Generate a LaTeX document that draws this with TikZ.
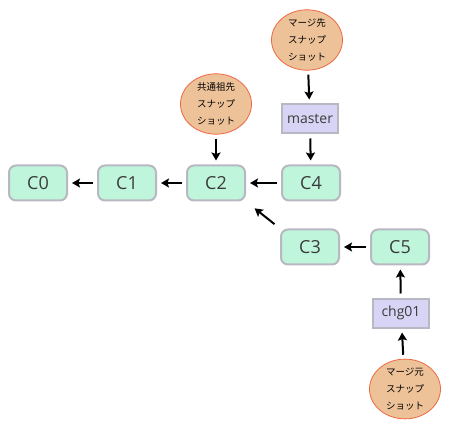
\documentclass[tikz,border=0pt]{standalone}
\usepackage{fontspec}
\setsansfont{Open Sans}
\newfontfamily\cjk{Noto Sans CJK JP}
\usetikzlibrary{shapes.geometric}
\usetikzlibrary{arrows.meta}
\usetikzlibrary{positioning}
\definecolor{green2}{RGB}{190, 245, 219}
\definecolor{gray2}{RGB}{184, 184, 194}
\definecolor{purple2}{RGB}{216, 212, 245}
\definecolor{orange2}{RGB}{237, 194, 153}
\definecolor{red2}{RGB}{238, 104, 64}
\definecolor{text2}{RGB}{60, 60, 60}
\tikzset{
commit/.style={draw=gray2, fill=green2, line width=2pt, rounded corners=7pt,
	minimum width=58pt, minimum height=35pt, inner sep=0pt,
	font=\sffamily\fontsize{18}{18}\selectfont, text=text2},
branch/.style={draw=gray2, fill=purple2, line width=2pt,
	minimum width=56pt, minimum height=29pt, inner sep=0pt,
	font=\sffamily\fontsize{14}{14}\selectfont, text=text2},
snap/.style={ellipse, draw=red2, fill=orange2, line width=0.8pt,
	minimum width=71pt, minimum height=53pt, inner sep=0pt, align=center,
	font=\cjk\fontsize{9.5}{17}\selectfont},
parent/.style={-{Stealth[length=8pt, width=9pt, inset=1.5pt]}, line width=2pt,
	shorten <=4pt, shorten >=4pt},
}

\begin{document}
\begin{tikzpicture}[x=1pt, y=-1pt]
\useasboundingbox (0,0) rectangle (450,422);
%Place the nodes
\node[commit] (c0) at (38,183) {C0};
\node[commit] (c1) at (127,183) {C1};
\node[commit] (c2) at (216,183) {C2};
\node[commit] (c4) at (311,183) {C4};
\node[commit] (c3) at (310,247) {C3};
\node[commit] (c5) at (400,247) {C5};

\node[branch] (master) at (310,119) {master};
\node[branch] (chg01) at (401,313) {chg01};

\node[snap] (target) at (307,40) {マージ先\\スナップ\\ショット};
\node[snap] (base) at (216,104) {共通祖先\\スナップ\\ショット};
\node[snap] (source) at (405,389) {マージ元\\スナップ\\ショット};

%Connect them
\draw[parent] (c1) to (c0);
\draw[parent] (c2) to (c1);
\draw[parent] (c4) to (c2);
\draw[parent, shorten <=7pt, shorten >=11pt] (c3.north west) to (c2.south east);
\draw[parent] (c5) to (c3);

\draw[parent] (chg01) to (c5);
\draw[parent] (source) to (chg01);
\draw[parent] (master) to (c4);
\draw[parent] (target) to (master);
\draw[parent] (base) to (c2);

\end{tikzpicture}
\end{document}
